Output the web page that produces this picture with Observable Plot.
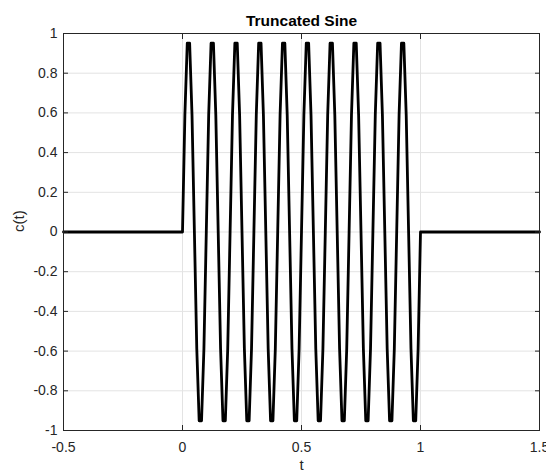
<!DOCTYPE html>
<html>
<head>
<meta charset="utf-8">
<script src="https://cdn.jsdelivr.net/npm/d3@7"></script>
<script src="https://cdn.jsdelivr.net/npm/@observablehq/plot@0.6"></script>
<style>
  html, body { margin: 0; padding: 0; background: #ffffff; }
</style>
</head>
<body>
<div id="chart"></div>
<script>
// Sample times (s)
const tValues = [
  -0.5,
  0.00, 0.01, 0.02, 0.03, 0.04, 0.05, 0.06, 0.07, 0.08, 0.09,
  0.10, 0.11, 0.12, 0.13, 0.14, 0.15, 0.16, 0.17, 0.18, 0.19,
  0.20, 0.21, 0.22, 0.23, 0.24, 0.25, 0.26, 0.27, 0.28, 0.29,
  0.30, 0.31, 0.32, 0.33, 0.34, 0.35, 0.36, 0.37, 0.38, 0.39,
  0.40, 0.41, 0.42, 0.43, 0.44, 0.45, 0.46, 0.47, 0.48, 0.49,
  0.50, 0.51, 0.52, 0.53, 0.54, 0.55, 0.56, 0.57, 0.58, 0.59,
  0.60, 0.61, 0.62, 0.63, 0.64, 0.65, 0.66, 0.67, 0.68, 0.69,
  0.70, 0.71, 0.72, 0.73, 0.74, 0.75, 0.76, 0.77, 0.78, 0.79,
  0.80, 0.81, 0.82, 0.83, 0.84, 0.85, 0.86, 0.87, 0.88, 0.89,
  0.90, 0.91, 0.92, 0.93, 0.94, 0.95, 0.96, 0.97, 0.98, 0.99,
  1.00,
  1.5
];
// Signal values c(t)
const cValues = [
  0,
  0, 0.588, 0.951, 0.951, 0.588, 0, -0.588, -0.951, -0.951, -0.588,
  0, 0.588, 0.951, 0.951, 0.588, 0, -0.588, -0.951, -0.951, -0.588,
  0, 0.588, 0.951, 0.951, 0.588, 0, -0.588, -0.951, -0.951, -0.588,
  0, 0.588, 0.951, 0.951, 0.588, 0, -0.588, -0.951, -0.951, -0.588,
  0, 0.588, 0.951, 0.951, 0.588, 0, -0.588, -0.951, -0.951, -0.588,
  0, 0.588, 0.951, 0.951, 0.588, 0, -0.588, -0.951, -0.951, -0.588,
  0, 0.588, 0.951, 0.951, 0.588, 0, -0.588, -0.951, -0.951, -0.588,
  0, 0.588, 0.951, 0.951, 0.588, 0, -0.588, -0.951, -0.951, -0.588,
  0, 0.588, 0.951, 0.951, 0.588, 0, -0.588, -0.951, -0.951, -0.588,
  0, 0.588, 0.951, 0.951, 0.588, 0, -0.588, -0.951, -0.951, -0.588,
  0,
  0
];
const xTicks = [-0.5, 0, 0.5, 1, 1.5];
const yTicks = [-1, -0.8, -0.6, -0.4, -0.2, 0, 0.2, 0.4, 0.6, 0.8, 1];
const titleText = "Truncated Sine";
const xLabel = "t";
const yLabel = "c(t)";

const rows = tValues.map((t, i) => ({t, c: cValues[i]}));
const axisColor = "#262626";
const gridColor = "#e3e3e3";

const chart = Plot.plot({
  width: 546,
  height: 472,
  marginLeft: 63,
  marginRight: 7,
  marginTop: 33,
  marginBottom: 42,
  style: {
    fontFamily: "'Liberation Sans', Arial, Helvetica, sans-serif",
    fontSize: "14px",
    color: axisColor,
    background: "#ffffff",
    overflow: "visible"
  },
  x: {domain: [-0.5, 1.5]},
  y: {domain: [-1, 1]},
  marks: [
    Plot.gridX(xTicks, {stroke: gridColor, strokeOpacity: 1}),
    Plot.gridY(yTicks, {stroke: gridColor, strokeOpacity: 1}),
    Plot.line(rows, {x: "t", y: "c", stroke: "#000000", strokeWidth: 2.8, strokeLinejoin: "round"}),
    Plot.frame({stroke: axisColor, strokeWidth: 1}),
    Plot.axisX(xTicks, {anchor: "bottom", tickSize: -5, tickPadding: 17, tickFormat: d => String(d), label: null, stroke: axisColor, fill: axisColor}),
    Plot.axisX(xTicks, {anchor: "top", tickSize: -5, fill: "none", label: null, stroke: axisColor}),
    Plot.axisY(yTicks, {anchor: "left", tickSize: -5, tickPadding: 11, tickFormat: d => String(d), label: null, stroke: axisColor, fill: axisColor}),
    Plot.axisY(yTicks, {anchor: "right", tickSize: -5, fill: "none", label: null, stroke: axisColor}),
    Plot.text([titleText], {text: d => d, frameAnchor: "top", lineAnchor: "bottom", dy: -8, fontWeight: "bold", fontSize: 15.5, fill: "#000000"}),
    Plot.text([xLabel], {text: d => d, frameAnchor: "bottom", lineAnchor: "bottom", dy: 39, fontSize: 15, fill: axisColor}),
    Plot.text([yLabel], {text: d => d, frameAnchor: "left", rotate: -90, lineAnchor: "middle", dx: -44, fontSize: 15, fill: axisColor})
  ]
});
document.getElementById("chart").appendChild(chart);
</script>
</body>
</html>
